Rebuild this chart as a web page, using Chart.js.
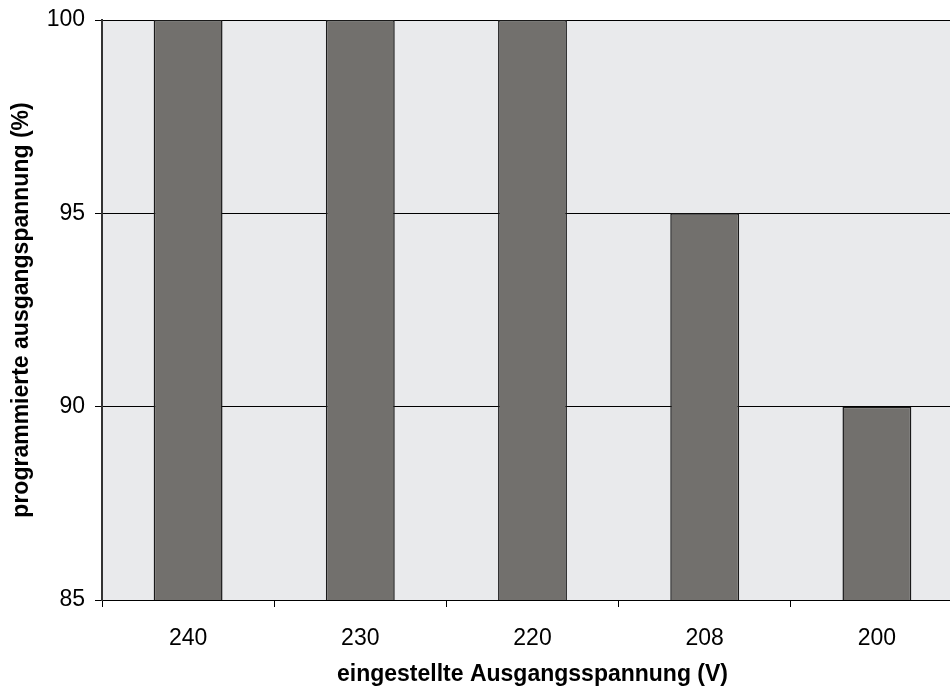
<!DOCTYPE html>
<html>
<head>
<meta charset="utf-8">
<script src="https://cdn.jsdelivr.net/npm/chart.js@4/dist/chart.umd.min.js"></script>
<style>
  html, body { margin: 0; padding: 0; background: #fff; overflow: hidden; }
  /* plot runs a little past the right window edge, as in the original */
  #wrap { width: 963px; height: 690px; }
</style>
</head>
<body>
<div id="wrap"><canvas id="chart_voltage"></canvas></div>
<script>
'use strict';
const categories = ['240', '230', '220', '208', '200'];
const outputPercent = [100, 100, 100, 95, 90];
const yTicks = [85, 90, 95, 100];
const xTitle = 'eingestellte Ausgangsspannung (V)';
const yTitle = 'programmierte ausgangspannung (%)';

const FONT = '"Liberation Sans", Arial, sans-serif';

// grey plot background behind the bars
const plotBackground = {
    id: 'plotBackground',
    beforeDraw(chart) {
        let {ctx, chartArea: a} = chart;
        ctx.save();
        ctx.fillStyle = '#e9eaec';
        ctx.fillRect(a.left, a.top, a.right - a.left, a.bottom - a.top);
        ctx.restore();
    }
};

function renderChart(select) {
    let ctx = document.getElementById(select).getContext('2d');
    window.ChartVoltage = new Chart(ctx, {
        type: 'bar',
        data: {
            labels: categories,
            datasets: [{
                data: outputPercent,
                backgroundColor: '#72706d',
                borderColor: '#1a1a1a',
                borderWidth: 1.5,
                borderSkipped: false,
                barPercentage: 0.4,
                categoryPercentage: 1
            }]
        },
        options: {
            responsive: true,
            maintainAspectRatio: false,
            animation: false,
            layout: {padding: {top: 20, right: 0, left: 0, bottom: 0}},
            plugins: {legend: {display: false}, tooltip: {enabled: false}},
            scales: {
                x: {
                    grid: {offset: true, drawOnChartArea: false, color: '#000', tickLength: 7},
                    border: {color: '#000', width: 1},
                    ticks: {color: '#000', font: {family: FONT, size: 23}, padding: 18},
                    title: {display: true, text: xTitle, color: '#000',
                        font: {family: FONT, size: 23, weight: 'bold'}, padding: {top: 0, bottom: 2}},
                    afterFit(scale) { scale.height = 90; }
                },
                y: {
                    min: 85,
                    max: 100,
                    afterBuildTicks(scale) { scale.ticks = yTicks.map(v => ({value: v})); },
                    grid: {color: '#000', tickLength: 7},
                    border: {color: '#333', width: 2},
                    ticks: {color: '#000', font: {family: FONT, size: 23}, padding: 10},
                    title: {display: true, text: yTitle, color: '#000',
                        font: {family: FONT, size: 23, weight: 'bold'}, padding: {top: 8, bottom: 0}},
                    afterFit(scale) {
                        scale.width = 102;
                        scale.paddingTop = 0;
                        scale.paddingBottom = 0;
                    }
                }
            }
        },
        plugins: [plotBackground]
    });
}

renderChart('chart_voltage');
</script>
</body>
</html>
